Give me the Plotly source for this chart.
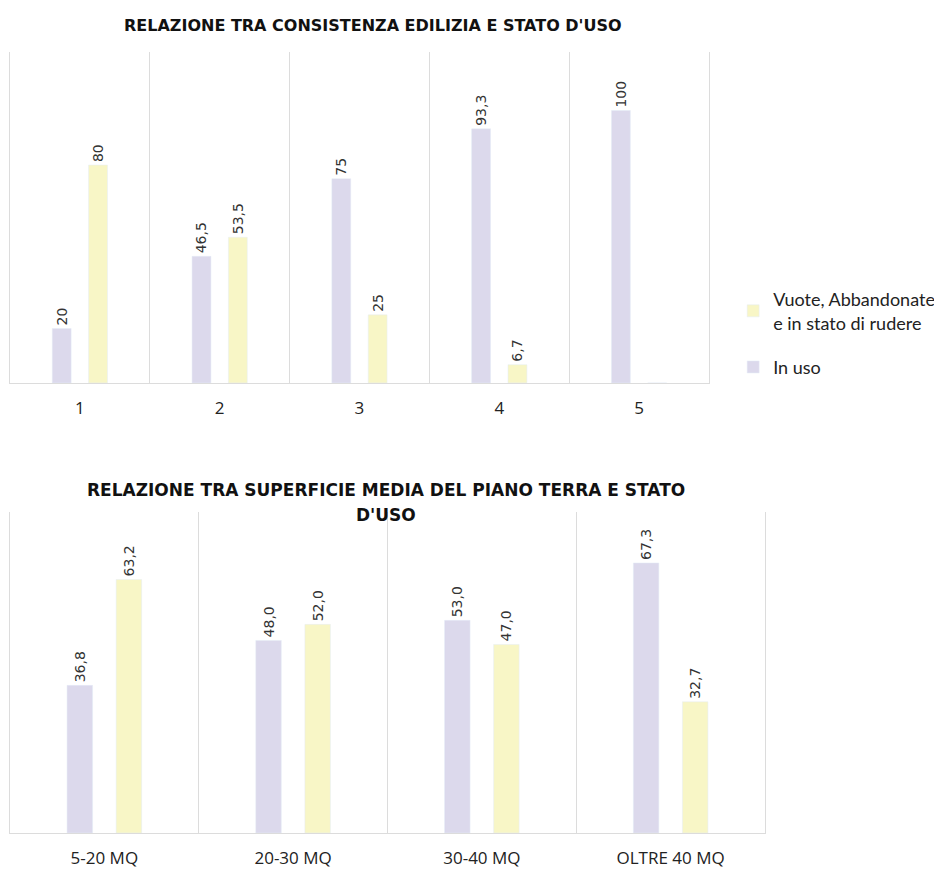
import plotly.graph_objects as go

# top chart: consistenza edilizia
cons_cat = ["1", "2", "3", "4", "5"]
cons_inuso = [20, 46.5, 75, 93.3, 100]
cons_vuote = [80, 53.5, 25, 6.7, 0]

# bottom chart: superficie media piano terra
sup_cat = ["5-20 MQ", "20-30 MQ", "30-40 MQ", "OLTRE 40 MQ"]
sup_inuso = [36.8, 48.0, 53.0, 67.3]
sup_vuote = [63.2, 52.0, 47.0, 32.7]

title_top = "RELAZIONE TRA CONSISTENZA EDILIZIA E STATO D'USO"
title_bot_1 = "RELAZIONE TRA SUPERFICIE MEDIA DEL PIANO TERRA E STATO"
title_bot_2 = "D'USO"
name_inuso = "In uso"
name_vuote = "Vuote, Abbandonate<br>e in stato di rudere"

COL_INUSO = "#dcd9ec"
COL_VUOTE = "#f8f6c6"
GRID = "#dcdcdc"
LABEL_FONT = dict(family="DejaVu Sans", size=14, color="#333333")
TITLE_FONT = dict(family="DejaVu Sans", size=16, color="#111111")

# page body has an 8px margin, so the figure is a bit smaller than the window
W, H = 934, 861


def fmt_g(v):
    return "" if v == 0 else f"{v:g}".replace(".", ",")


def fmt_1(v):
    return f"{v:.1f}".replace(".", ",")


fig = go.Figure()

fig.add_trace(go.Bar(
    x=cons_cat, y=cons_inuso, name=name_inuso, marker_color=COL_INUSO,
    text=[fmt_g(v) for v in cons_inuso], textposition="outside", textangle=-90,
    textfont=LABEL_FONT, cliponaxis=False, legendrank=2, legendgroup="a",
    constraintext="none", xaxis="x", yaxis="y"))
fig.add_trace(go.Bar(
    x=cons_cat, y=cons_vuote, name=name_vuote, marker_color=COL_VUOTE,
    text=[fmt_g(v) for v in cons_vuote], textposition="outside", textangle=-90,
    textfont=LABEL_FONT, cliponaxis=False, legendrank=1, legendgroup="b",
    constraintext="none", xaxis="x", yaxis="y"))
fig.add_trace(go.Bar(
    x=sup_cat, y=sup_inuso, name=name_inuso, marker_color=COL_INUSO,
    text=[fmt_1(v) for v in sup_inuso], textposition="outside", textangle=-90,
    textfont=LABEL_FONT, cliponaxis=False, showlegend=False,
    constraintext="none", xaxis="x2", yaxis="y2"))
fig.add_trace(go.Bar(
    x=sup_cat, y=sup_vuote, name=name_vuote, marker_color=COL_VUOTE,
    text=[fmt_1(v) for v in sup_vuote], textposition="outside", textangle=-90,
    textfont=LABEL_FONT, cliponaxis=False, showlegend=False,
    constraintext="none", xaxis="x2", yaxis="y2"))

xcommon = dict(tickson="boundaries", showgrid=True, gridcolor=GRID, gridwidth=1,
               showline=True, linecolor=GRID, ticks="", ticklabelstandoff=10,
               tickfont=dict(family="Open Sans", size=17, color="#222222"),
               fixedrange=True)
ycommon = dict(showgrid=False, showticklabels=False, zeroline=False,
               showline=True, linecolor=GRID, mirror=True, ticks="")

fig.update_layout(
    width=W, height=H,
    margin=dict(l=0, r=0, t=0, b=0, autoexpand=False),
    paper_bgcolor="white", plot_bgcolor="white",
    barmode="group", bargap=0.48, bargroupgap=0.48,
    uniformtext=dict(minsize=14, mode="show"),
    xaxis=dict(domain=[0.0021, 0.7505], anchor="y", range=[-0.5, 4.5], **xcommon),
    yaxis=dict(domain=[0.5645, 0.9489], range=[0, 121.5], anchor="x", **ycommon),
    xaxis2=dict(domain=[0.0021, 0.8105], anchor="y2", range=[-0.5, 3.5], **xcommon),
    yaxis2=dict(domain=[0.0418, 0.4146], range=[0, 80], anchor="x2", **ycommon),
    legend=dict(x=0.7764, y=0.683, xanchor="left", yanchor="top",
                font=dict(family="Lato", size=18, color="#222222"),
                tracegroupgap=18, itemwidth=30, traceorder="grouped"),
    showlegend=True,
    annotations=[
        dict(text=f"<b>{title_top}</b>", x=0.3908, y=0.980, xref="paper", yref="paper",
             showarrow=False, xanchor="center", yanchor="middle", font=TITLE_FONT),
        dict(text=f"<b>{title_bot_1}</b>", x=0.4047, y=1 - 482 / H, xref="paper",
             yref="paper", showarrow=False, xanchor="center", yanchor="middle",
             font=dict(TITLE_FONT, size=17)),
        dict(text=f"<b>{title_bot_2}</b>", x=0.4047, y=1 - 507 / H, xref="paper",
             yref="paper", showarrow=False, xanchor="center", yanchor="middle",
             font=dict(TITLE_FONT, size=17)),
    ],
)

fig.write_html("out.html")
